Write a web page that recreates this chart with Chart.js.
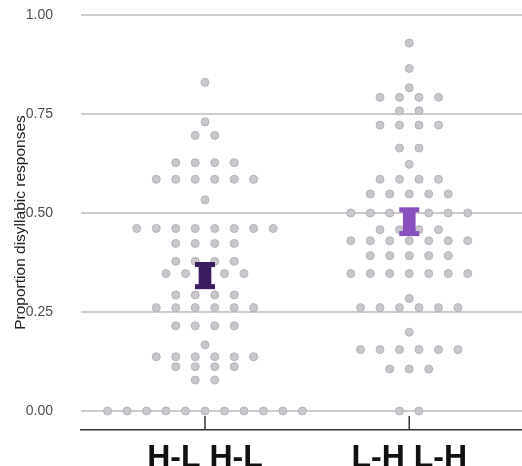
<!DOCTYPE html>
<html>
<head>
<meta charset="utf-8">
<script src="https://cdn.jsdelivr.net/npm/chart.js@4"></script>
<style>body{margin:0;background:#fff}</style>
</head>
<body>
<canvas id="myChart" width="522" height="466"></canvas>
<script>
var categories = ['H-L H-L', 'L-H L-H']
// dot rows: proportion value and how many dots sit on that row
var hlValues = [0.830, 0.730, 0.696, 0.627, 0.585, 0.533, 0.461, 0.423, 0.378, 0.347, 0.293, 0.261, 0.215, 0.167, 0.137, 0.112, 0.078, 0]
var hlCounts = [1, 1, 2, 4, 6, 1, 8, 4, 4, 5, 4, 6, 4, 1, 6, 4, 2, 11]
var lhValues = [0.929, 0.865, 0.816, 0.792, 0.758, 0.722, 0.664, 0.623, 0.585, 0.548, 0.500, 0.458, 0.430, 0.392, 0.347, 0.284, 0.261, 0.199, 0.155, 0.106, 0]
var lhCounts = [1, 1, 1, 4, 2, 4, 2, 1, 4, 5, 7, 4, 7, 5, 7, 1, 6, 1, 6, 3, 2]
// error bars (mean +- SE)
var errLow = [0.314, 0.448]
var errHigh = [0.370, 0.508]
var yTicks = [0, 0.25, 0.5, 0.75, 1]

var barColors = ['#3c1d5f', '#8a50bf']
var step = 0.0954  // horizontal gap between dots, x units

var ctx = document.getElementById('myChart').getContext('2d')

// lay dots of a row side by side, centred on the category
function swarm(values, counts, cat) {
	var pts = []
	values.forEach(function (v, i) {
		var n = counts[i]
		for (var j = 0; j < n; j++) pts.push({ x: cat + (j - (n - 1) / 2) * step, y: v })
	})
	return pts
}

var dots = swarm(hlValues, hlCounts, 1).concat(swarm(lhValues, lhCounts, 2))
var stems = categories.map(function (c, i) { return { x: i + 1, y: [errLow[i], errHigh[i]] } })
var caps = [], capColors = []
categories.forEach(function (c, i) {
	caps.push({ x: i + 1, y: errLow[i] }, { x: i + 1, y: errHigh[i] })
	capColors.push(barColors[i], barColors[i])
})

// small upward ticks on the x axis line
var tickMarks = {
	id: 'tickMarks',
	afterDatasetsDraw: function (chart) {
		var x = chart.scales.x, c = chart.ctx, bottom = chart.chartArea.bottom
		c.save()
		c.strokeStyle = '#333'
		c.lineWidth = 1.5
		categories.forEach(function (cat, i) {
			var px = x.getPixelForValue(i + 1)
			c.beginPath()
			c.moveTo(px, bottom)
			c.lineTo(px, bottom - 14)
			c.stroke()
		})
		c.restore()
	}
}

new Chart(ctx, {
	type: 'scatter',
	data: {
		datasets: [{
			data: dots,
			backgroundColor: '#c9c6cc',
			borderColor: '#b6b2bb',
			borderWidth: 1,
			pointRadius: 4,
			order: 3
		}, {
			type: 'bar',
			data: stems,
			backgroundColor: barColors,
			barThickness: 12,
			grouped: false,
			order: 2
		}, {
			data: caps,
			pointStyle: 'line',
			pointRadius: 10,
			borderWidth: 5,
			borderColor: capColors,
			backgroundColor: capColors,
			order: 1
		}]
	},
	options: {
		responsive: false,
		animation: false,
		layout: { autoPadding: false, padding: { top: 15, right: 0, left: 0, bottom: 0 } },
		plugins: { legend: { display: false }, tooltip: { enabled: false } },
		scales: {
			x: {
				type: 'linear',
				offset: false,
				min: 0.393,
				max: 2.552,
				grid: { display: false },
				border: { display: true, color: '#333', width: 1.5 },
				afterBuildTicks: function (scale) {
					scale.ticks = categories.map(function (c, i) { return { value: i + 1 } })
				},
				afterFit: function (scale) {
					scale.height = 36
					scale.paddingLeft = 0
					scale.paddingRight = 0
				},
				ticks: {
					autoSkip: false,
					maxRotation: 0,
					padding: 4,
					color: '#111',
					font: { family: 'Liberation Sans', size: 32, weight: 'bold', lineHeight: 1 },
					callback: function (v) { return categories[Math.round(v) - 1] }
				}
			},
			y: {
				min: -0.048,
				max: 1,
				grid: { color: '#cccccc', lineWidth: 2, drawTicks: false },
				border: { display: false },
				afterBuildTicks: function (scale) {
					scale.ticks = yTicks.map(function (v) { return { value: v } })
				},
				afterFit: function (scale) {
					scale.width = 81
					scale.paddingTop = 0
					scale.paddingBottom = 0
				},
				ticks: {
					padding: 28,
					color: '#4d4d4d',
					font: { family: 'Liberation Sans', size: 14 },
					callback: function (v) { return v.toFixed(2) }
				},
				title: {
					display: true,
					text: 'Proportion disyllabic responses',
					color: '#222',
					padding: { top: 11, bottom: 0 },
					font: { family: 'Liberation Sans', size: 15.5, lineHeight: 1.2 }
				}
			}
		}
	},
	plugins: [tickMarks]
})
</script>
</body>
</html>
